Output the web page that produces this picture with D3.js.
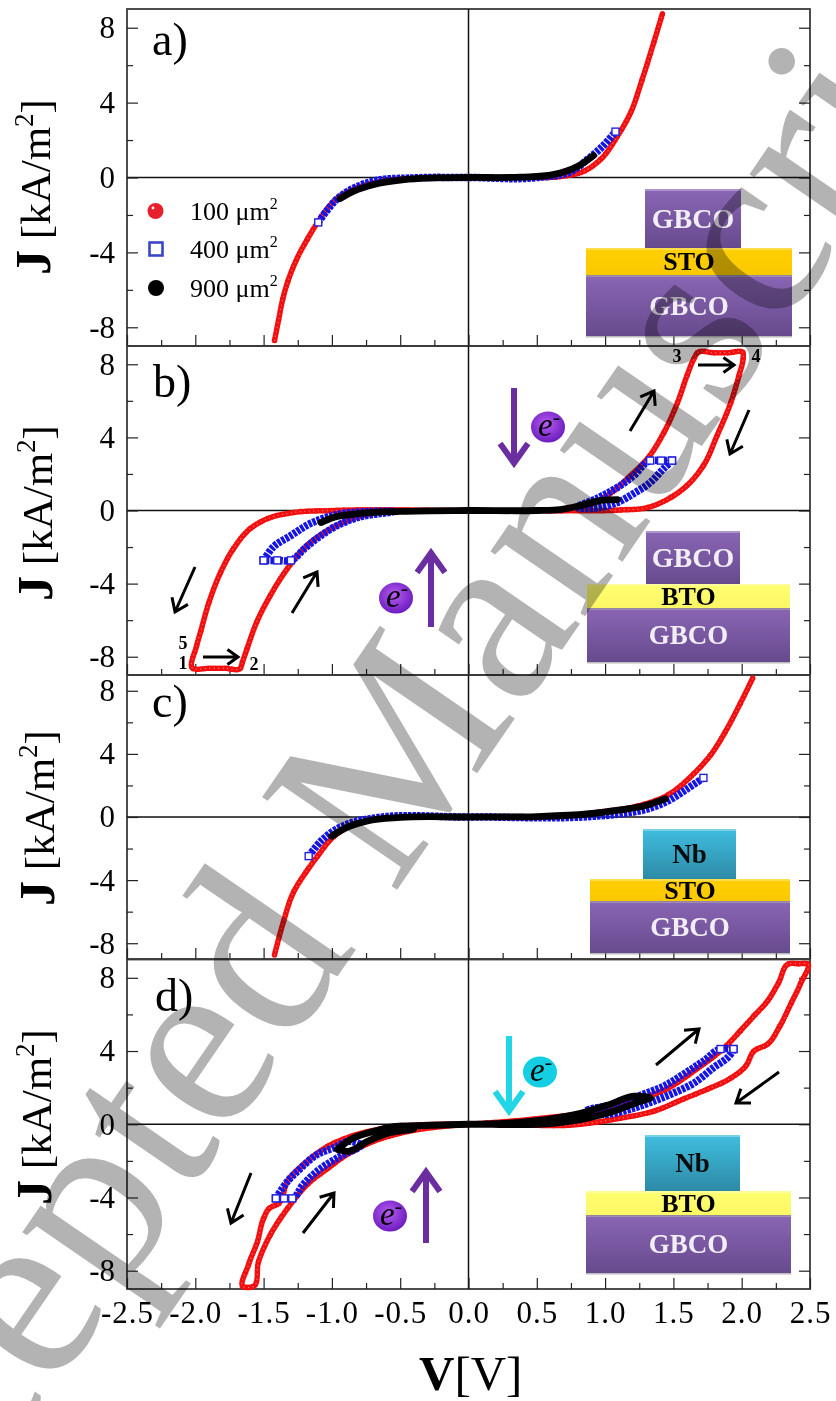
<!DOCTYPE html>
<html>
<head>
<meta charset="utf-8">
<script src="https://cdnjs.cloudflare.com/ajax/libs/d3/7.8.5/d3.min.js"></script>
<style>
  body { margin: 0; background: #fff; }
  text { font-family: "Liberation Serif", serif; }
</style>
</head>
<body>
<div id="my_dataviz"></div>
<script>
// tick values
var xMajor = [-2.5, -2, -1.5, -1, -0.5, 0, 0.5, 1, 1.5, 2, 2.5]
var xMinor = [-2.25, -1.75, -1.25, -0.75, -0.25, 0.25, 0.75, 1.25, 1.75, 2.25]
var yMajor = [-8, -4, 0, 4, 8]
var yMinor = [-6, -2, 2, 6]

// J-V curves, [V, J]
var aRed = [[-1.42,-8.7],[-1.39,-7.6],[-1.36,-6.5],[-1.32,-5.5],[-1.26,-4.4],[-1.18,-3.3],[-1.105,-2.4],[-1.02,-1.55],[-0.94,-1.0],[-0.79,-0.48],[-0.64,-0.2],[-0.37,-0.03],[0,0],[0.4,0],[0.67,0.05],[0.84,0.32],[0.966,0.96],[1.09,2.2],[1.186,3.45],[1.27,5.2],[1.356,7.2],[1.42,8.75]]
var aBlue = [[-1.1,-2.4],[-1.04,-1.8],[-0.97,-1.2],[-0.85,-0.6],[-0.7,-0.2],[-0.4,-0.02],[0,0],[0.5,0],[0.76,0.35],[0.87,0.96],[0.98,1.65],[1.076,2.45]]
var aBlack = [[-0.94,-1.13],[-0.84,-0.73],[-0.69,-0.37],[-0.5,-0.14],[-0.35,-0.05],[0,0],[0.38,0.02],[0.62,0.15],[0.8,0.6],[0.915,1.17]]

var bRed = [[0,0],[0.5,0],[0.82,0.11],[1.017,0.82],[1.186,1.91],[1.31,2.84],[1.43,4.26],[1.53,5.9],[1.6,7.38],[1.65,8.3],[1.676,8.63],[1.8,8.63],[1.9,8.63],[2.01,8.63],[2.01,8.3],[1.98,7.38],[1.92,5.9],[1.82,4.1],[1.72,2.46],[1.6,1.37],[1.48,0.71],[1.31,0.16],[1.11,0.03],[0.6,0],[0,0],[-0.99,0],[-1.28,-0.11],[-1.47,-0.44],[-1.596,-0.98],[-1.72,-2.08],[-1.815,-3.39],[-1.9,-5.03],[-1.96,-6.6],[-1.99,-7.4],[-2.02,-8.63],[-1.9,-8.63],[-1.78,-8.63],[-1.67,-8.63],[-1.655,-8.3],[-1.62,-7.54],[-1.55,-6.1],[-1.45,-4.64],[-1.325,-3.17],[-1.18,-1.9],[-1.03,-1.09],[-0.886,-0.55],[-0.695,-0.16],[-0.37,-0.02],[0,0]]
var bBlueNeg = [[-1.5,-2.73],[-1.43,-2.0],[-1.3,-1.37],[-1.157,-0.71],[-0.99,-0.27],[-0.7,-0.05],[-0.55,-0.05],[-0.81,-0.38],[-0.96,-0.82],[-1.08,-1.37],[-1.2,-2.08],[-1.3,-2.73],[-1.4,-2.73],[-1.5,-2.73]]
var bBluePos = [[1.49,2.73],[1.43,2.3],[1.33,1.53],[1.21,0.93],[1.09,0.44],[0.87,0.11],[0.8,0.16],[0.94,0.66],[1.09,1.26],[1.21,1.91],[1.33,2.73],[1.41,2.73],[1.49,2.73]]
var bBlack = [[-1.08,-0.66],[-0.99,-0.38],[-0.79,-0.16],[-0.5,-0.05],[0,0],[0.5,0],[0.67,0.05],[0.82,0.27],[0.97,0.55],[1.09,0.6]]

var cRed = [[-1.42,-8.73],[-1.354,-6.62],[-1.28,-4.75],[-1.19,-3.5],[-1.105,-2.48],[-0.99,-1.27],[-0.84,-0.45],[-0.67,-0.13],[-0.37,0],[0,0],[0.62,0.02],[0.97,0.33],[1.24,0.7],[1.46,1.4],[1.65,2.75],[1.77,3.9],[1.88,5.4],[1.99,7.2],[2.08,8.79]]
var cBlue = [[-1.17,-2.48],[-1.08,-1.53],[-0.99,-0.89],[-0.84,-0.32],[-0.7,-0.08],[0,0],[0.87,0.02],[1.11,0.19],[1.31,0.51],[1.46,1.02],[1.6,1.78],[1.72,2.48]]
var cBlack = [[-1.0,-1.21],[-0.886,-0.64],[-0.74,-0.25],[-0.5,-0.03],[0,0],[0.5,0.03],[0.87,0.19],[1.11,0.45],[1.31,0.76],[1.44,1.15]]

var dRed = [[0,0],[0.5,0.3],[0.915,0.71],[1.21,1.26],[1.46,1.97],[1.68,3.07],[1.87,4.16],[1.99,5.1],[2.09,5.92],[2.19,6.74],[2.27,7.73],[2.345,8.77],[2.42,8.77],[2.48,8.77],[2.43,7.67],[2.36,6.58],[2.28,5.37],[2.19,4.38],[2.09,4.0],[2.03,3.18],[1.92,2.52],[1.75,1.92],[1.57,1.37],[1.355,0.71],[1.11,0.33],[0.82,0],[0,0],[-0.5,-0.49],[-0.695,-0.93],[-0.886,-1.64],[-1.03,-2.41],[-1.18,-3.29],[-1.325,-4.6],[-1.45,-6.03],[-1.537,-7.5],[-1.58,-8.88],[-1.647,-8.88],[-1.61,-7.67],[-1.545,-6.41],[-1.5,-5.15],[-1.46,-4.6],[-1.39,-4.33],[-1.325,-3.12],[-1.18,-2.03],[-1.03,-1.2],[-0.86,-0.66],[-0.62,-0.22],[0,0]]
var dBlueNeg = [[-1.41,-4.05],[-1.325,-3.12],[-1.23,-2.41],[-1.105,-1.64],[-0.99,-1.3],[-0.86,-0.93],[-0.79,-1.1],[-0.94,-1.75],[-1.08,-2.41],[-1.21,-3.29],[-1.29,-4.05],[-1.35,-4.05],[-1.41,-4.05]]
var dBluePos = [[1.94,4.11],[1.92,3.84],[1.79,3.07],[1.65,2.25],[1.5,1.7],[1.355,1.26],[1.21,0.88],[0.97,0.55],[0.87,0.71],[1.11,1.15],[1.28,1.64],[1.43,2.08],[1.575,2.74],[1.72,3.45],[1.845,4.11],[1.94,4.11]]
var dBlack = [[-0.96,-1.37],[-0.86,-0.82],[-0.69,-0.38],[-0.5,-0.11],[-0.4,-0.22],[-0.59,-0.49],[-0.74,-0.93],[-0.886,-1.48],[-0.96,-1.37]]
var dBlack2 = [[0,0],[0.26,0.05],[0.58,0.27],[0.82,0.6],[1.04,1.1],[1.21,1.53],[1.33,1.42],[1.26,1.26],[1.06,0.71],[0.87,0.33],[0.62,0.05],[0,0],[-0.5,-0.11]]

var legendLabels = ["100 μm", "400 μm", "900 μm"]
var panelLabels = ["a)", "b)", "c)", "d)"]

// page layout
var pageW = 836, pageH = 1401
var left = 127, right = 810
var panels = [
  { name: "a", top: 9, bottom: 346, label: [152, 55], title: [50, 187], red: [aRed], blue: [aBlue], black: [aBlack] },
  { name: "b", top: 346, bottom: 675, label: [153, 397], title: [52, 513], red: [bRed], blue: [bBlueNeg, bBluePos], black: [bBlack] },
  { name: "c", top: 675, bottom: 959, label: [152, 717], title: [54, 818], red: [cRed], blue: [cBlue], black: [cBlack] },
  { name: "d", top: 959.5, bottom: 1289, label: [155, 1011], title: [51, 1117], red: [dRed], blue: [dBlueNeg, dBluePos], black: [dBlack, dBlack2] }
]

var svg = d3.select("#my_dataviz")
  .append("svg")
  .attr("width", pageW)
  .attr("height", pageH)
  .style("display", "block")

var defs = svg.append("defs")

function addGradient(id, c0, c1) {
  var g = defs.append("linearGradient").attr("id", id).attr("x1", 0).attr("y1", 0).attr("x2", 0).attr("y2", 1)
  g.append("stop").attr("offset", "0").attr("stop-color", c0)
  g.append("stop").attr("offset", "1").attr("stop-color", c1)
}
addGradient("purple", "#8a66b4", "#674a8e")
addGradient("nb", "#40bddf", "#2d8aa6")
addGradient("sto", "#ffd000", "#fbc800")
addGradient("bto", "#ffff70", "#fbf765")

var ball = defs.append("radialGradient").attr("id", "ball").attr("cx", "0.45").attr("cy", "0.4").attr("r", "0.6")
ball.append("stop").attr("offset", "0").attr("stop-color", "#b65cf0")
ball.append("stop").attr("offset", "1").attr("stop-color", "#6d1cc0")

var x = d3.scaleLinear().domain([-2.5, 2.5]).range([left, right])

panels.forEach(function (p, i) {
  var y = d3.scaleLinear().domain([-9, 9]).range([p.bottom, p.top])
  var g = svg.append("g")

  // frame
  g.append("rect")
    .attr("x", left).attr("y", p.top)
    .attr("width", right - left).attr("height", p.bottom - p.top)
    .attr("fill", "none").attr("stroke", "#3a3a3a").attr("stroke-width", 1.8)

  // zero lines
  g.append("line").attr("x1", left).attr("x2", right).attr("y1", y(0)).attr("y2", y(0))
    .attr("stroke", "#111").attr("stroke-width", 1.5)
  g.append("line").attr("x1", x(0)).attr("x2", x(0)).attr("y1", p.top).attr("y2", p.bottom)
    .attr("stroke", "#111").attr("stroke-width", 1.5)

  // axes, all ticks point inward
  var showX = i == 3
  var axB = g.append("g").attr("transform", "translate(0," + p.bottom + ")")
    .call(d3.axisBottom(x).tickValues(xMajor).tickSize(-11).tickPadding(12)
      .tickFormat(showX ? d3.format(".1f") : ""))
  var axB2 = g.append("g").attr("transform", "translate(0," + p.bottom + ")")
    .call(d3.axisBottom(x).tickValues(xMinor).tickSize(-6).tickFormat(""))
  var axL = g.append("g").attr("transform", "translate(" + left + ",0)")
    .call(d3.axisLeft(y).tickValues(yMajor).tickSize(-11).tickPadding(12).tickFormat(d3.format("d")))
  var axL2 = g.append("g").attr("transform", "translate(" + left + ",0)")
    .call(d3.axisLeft(y).tickValues(yMinor).tickSize(-6).tickFormat(""))
  var axR = g.append("g").attr("transform", "translate(" + right + ",0)")
    .call(d3.axisRight(y).tickValues(yMajor).tickSize(-11).tickFormat(""))
  var axR2 = g.append("g").attr("transform", "translate(" + right + ",0)")
    .call(d3.axisRight(y).tickValues(yMinor).tickSize(-6).tickFormat(""))
  ;[axB, axB2, axL, axL2, axR, axR2].forEach(function (a) {
    a.select(".domain").remove()
    a.selectAll("line").attr("stroke", "#222").attr("stroke-width", 1.2)
    a.selectAll("text").attr("font-family", "Liberation Serif").attr("font-size", 31).attr("fill", "#000")
  })
  axB.selectAll("text").style("letter-spacing", "1px")
  // d3.format uses a real minus, the figure has a hyphen
  axL.selectAll("text").text(function (d) { return d < 0 ? "-" + Math.abs(d) : d })
  if (showX) axB.selectAll("text").text(function (d) { return (d < 0 ? "-" : "") + Math.abs(d).toFixed(1) })

  var line = d3.line()
    .x(function (d) { return x(d[0]) })
    .y(function (d) { return y(d[1]) })
    .curve(d3.curveCatmullRom.alpha(1))

  // red 100 um2
  p.red.forEach(function (s) {
    g.append("path").attr("d", line(s)).attr("fill", "none")
      .attr("stroke", "#f20f0f").attr("stroke-width", 5.6)
      .attr("stroke-linecap", "round").attr("stroke-dasharray", "0 2.4")
    g.selectAll(null).data(s).enter().append("circle")
      .attr("cx", function (d) { return x(d[0]) })
      .attr("cy", function (d) { return y(d[1]) })
      .attr("r", 2.6).attr("fill", "#f20f0f")
    // open centres of the circles
    g.append("path").attr("d", line(s)).attr("fill", "none")
      .attr("stroke", "#fff").attr("stroke-opacity", 0.45).attr("stroke-width", 1.3)
      .attr("stroke-linecap", "round").attr("stroke-dasharray", "0 4.5")
  })

  // blue 400 um2
  p.blue.forEach(function (s) {
    var maxJ = d3.max(s, function (d) { return Math.abs(d[1]) })
    g.append("path").attr("d", line(s)).attr("fill", "none")
      .attr("stroke", "#1414e6").attr("stroke-width", 7.5)
      .attr("stroke-dasharray", "3.4 1.1")
    // only the turning points stand apart as open squares
    g.selectAll(null).data(s.filter(function (d) { return Math.abs(d[1]) > maxJ * 0.97 })).enter().append("rect")
      .attr("x", function (d) { return x(d[0]) - 3.5 })
      .attr("y", function (d) { return y(d[1]) - 3.5 })
      .attr("width", 7).attr("height", 7)
      .attr("fill", "#fff").attr("stroke", "#2222dd").attr("stroke-width", 1.4)
  })

  // black 900 um2
  p.black.forEach(function (s) {
    g.append("path").attr("d", line(s)).attr("fill", "none")
      .attr("stroke", "#000").attr("stroke-width", 6.8).attr("stroke-linecap", "round").attr("stroke-linejoin", "round")
  })

  // a), b) ...
  g.append("text").attr("x", p.label[0]).attr("y", p.label[1])
    .attr("font-size", 46).text(panelLabels[i])

  // y title
  var t = g.append("text")
    .attr("transform", "translate(" + p.title[0] + "," + p.title[1] + ") rotate(-90)")
    .attr("text-anchor", "middle")
    .attr("font-size", 43)
  t.append("tspan").attr("font-weight", "bold").attr("font-size", 50).text("J")
  t.append("tspan").text(" [kA/m")
  t.append("tspan").attr("font-size", 27).attr("dy", -17).text("2")
  t.append("tspan").attr("dy", 17).text("]")
})

// legend in panel a
var legendY = [211, 249, 288]
legendLabels.forEach(function (s, i) {
  var t = svg.append("text").attr("x", 190).attr("y", legendY[i] + 9).attr("font-size", 26).text(s)
  t.append("tspan").attr("font-size", 16).attr("dy", -11).text("2")
})
svg.append("circle").attr("cx", 155.5).attr("cy", legendY[0]).attr("r", 8).attr("fill", "#e8202c")
svg.append("circle").attr("cx", 153).attr("cy", legendY[0] - 3).attr("r", 1.4).attr("fill", "#fff")
svg.append("rect").attr("x", 149.5).attr("y", legendY[1] - 6.5).attr("width", 13).attr("height", 13)
  .attr("fill", "#fff").attr("stroke", "#3a46c8").attr("stroke-width", 2.6)
svg.append("circle").attr("cx", 156).attr("cy", legendY[2]).attr("r", 8).attr("fill", "#000")

// device sketches
var stacks = [
  { top: [645, 741, 189, 248], mid: [586, 792, 248, 275], bot: [586, 792, 275, 336], topFill: "purple", topText: "GBCO", midFill: "sto", midText: "STO" },
  { top: [646, 740, 531, 584], mid: [587, 790, 584, 608], bot: [587, 790, 608, 662], topFill: "purple", topText: "GBCO", midFill: "bto", midText: "BTO" },
  { top: [643, 736, 829, 879], mid: [590, 790, 879, 901], bot: [590, 790, 901, 953], topFill: "nb", topText: "Nb", midFill: "sto", midText: "STO" },
  { top: [645, 740, 1135, 1191], mid: [586, 791, 1191, 1215], bot: [586, 791, 1215, 1273], topFill: "nb", topText: "Nb", midFill: "bto", midText: "BTO" }
]

function layer(b, fill, label, color, size) {
  svg.append("rect").attr("x", b[0]).attr("y", b[2] + 1.5).attr("width", b[1] - b[0]).attr("height", b[3] - b[2])
    .attr("fill", "#777").attr("opacity", 0.5)
  svg.append("rect").attr("x", b[0]).attr("y", b[2]).attr("width", b[1] - b[0]).attr("height", b[3] - b[2])
    .attr("fill", "url(#" + fill + ")")
  svg.append("rect").attr("x", b[0]).attr("y", b[2]).attr("width", b[1] - b[0]).attr("height", 2)
    .attr("fill", "#fff").attr("opacity", 0.3)
  svg.append("text").attr("x", (b[0] + b[1]) / 2).attr("y", (b[2] + b[3]) / 2 + size * 0.34)
    .attr("text-anchor", "middle").attr("font-weight", "bold").attr("font-size", size)
    .attr("fill", color).text(label)
}
stacks.forEach(function (s) {
  layer(s.bot, "purple", "GBCO", "#f2eef6", 27)
  layer(s.top, s.topFill, s.topText, s.topFill == "nb" ? "#0c0c0c" : "#f2eef6", s.topFill == "nb" ? 27 : 28)
  layer(s.mid, s.midFill, s.midText, "#000", 26)
})

// sweep direction arrows
var arrows = [
  [195, 567, 175, 612, "#000", 3, 15],
  [292, 613, 317, 572, "#000", 3, 15],
  [203, 657, 238, 657, "#000", 3, 13],
  [630, 431, 654, 391, "#000", 3, 15],
  [698, 365, 734, 365, "#000", 3, 13],
  [749, 410, 730, 454, "#000", 3, 15],
  [514, 388, 514, 463, "#6a2ea0", 6, 24],
  [431, 627, 431, 553, "#6a2ea0", 6, 24],
  [251, 1173, 231, 1223, "#000", 3, 15],
  [303, 1233, 334, 1193, "#000", 3, 15],
  [656, 1065, 699, 1029, "#000", 3, 15],
  [779, 1072, 736, 1103, "#000", 3, 15],
  [509, 1036, 509, 1111, "#22d6e8", 6, 24],
  [426, 1243, 426, 1172, "#6a2ea0", 6, 24]
]
arrows.forEach(function (a) {
  var ang = Math.atan2(a[3] - a[1], a[2] - a[0]), h = a[6], w = 0.62
  var path = d3.path()
  path.moveTo(a[0], a[1]); path.lineTo(a[2], a[3])
  path.moveTo(a[2] - h * Math.cos(ang - w), a[3] - h * Math.sin(ang - w))
  path.lineTo(a[2], a[3])
  path.lineTo(a[2] - h * Math.cos(ang + w), a[3] - h * Math.sin(ang + w))
  svg.append("path").attr("d", path.toString()).attr("fill", "none")
    .attr("stroke", a[4]).attr("stroke-width", a[5]).attr("stroke-linejoin", "miter")
})

// electrons
var electrons = [[548, 427, "url(#ball)"], [396, 598, "url(#ball)"], [390, 1216, "url(#ball)"], [540, 1072, "#14cfe4"]]
electrons.forEach(function (e) {
  svg.append("ellipse").attr("cx", e[0]).attr("cy", e[1]).attr("rx", 17).attr("ry", 15.5).attr("fill", e[2])
  var t = svg.append("text").attr("x", e[0] - 10).attr("y", e[1] + 9).attr("font-size", 33).attr("font-style", "italic").text("e")
  t.append("tspan").attr("font-size", 22).attr("dy", -12).attr("font-style", "normal").text("-")
})

// sweep numbers in panel b
var sweepNums = [["3", 677, 362], ["4", 756, 362], ["5", 183, 649], ["1", 183, 669], ["2", 254, 670]]
sweepNums.forEach(function (n) {
  svg.append("text").attr("x", n[1]).attr("y", n[2]).attr("text-anchor", "middle")
    .attr("font-weight", "bold").attr("font-size", 18).text(n[0])
})

// x title
var xt = svg.append("text").attr("x", 419).attr("y", 1390).attr("font-size", 49)
xt.append("tspan").attr("font-weight", "bold").text("V")
xt.append("tspan").text("[V]")

// watermark runs over everything and darkens what is under it
svg.append("text")
  .attr("transform", "translate(-177,1725) rotate(-55.5)")
  .attr("font-size", 250)
  .attr("fill", "#b3b3b3")
  .style("mix-blend-mode", "multiply")
  .text("Accepted Manuscript")
</script>
</body>
</html>
